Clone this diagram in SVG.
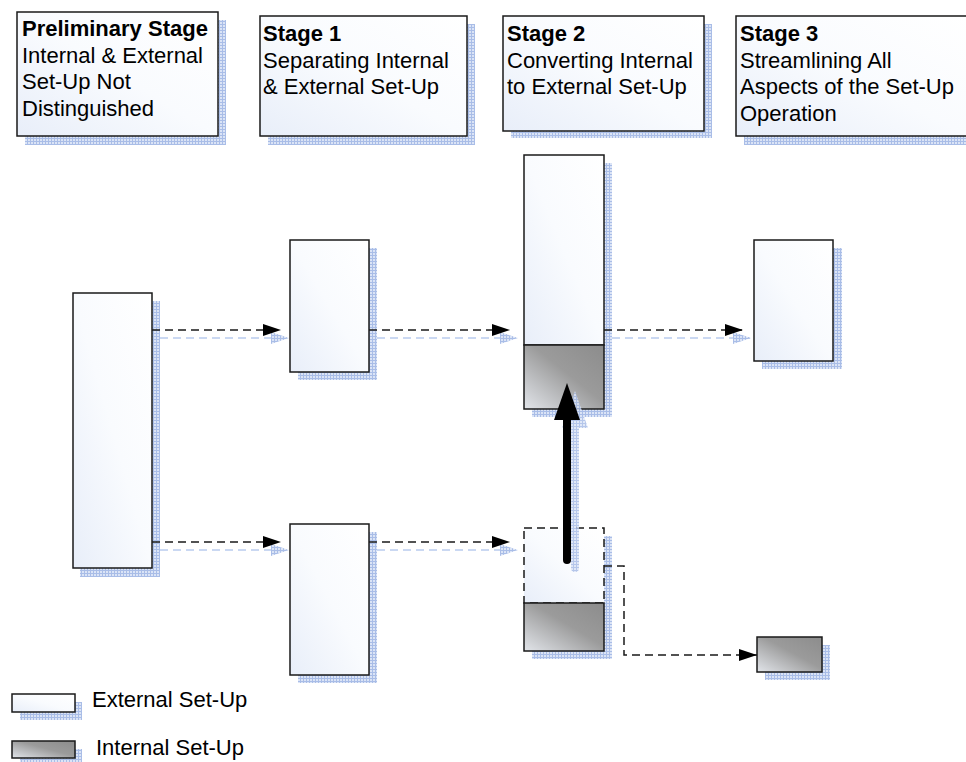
<svg xmlns="http://www.w3.org/2000/svg" width="966" height="762" viewBox="0 0 966 762">
<defs>
  <linearGradient id="gW" x1="0" y1="1" x2="1" y2="0">
    <stop offset="0" stop-color="#e8eef9"/>
    <stop offset="0.5" stop-color="#f9fbfe"/>
    <stop offset="1" stop-color="#ffffff"/>
  </linearGradient>
  <linearGradient id="gG" x1="0" y1="1" x2="1" y2="0">
    <stop offset="0" stop-color="#e2e5ea"/>
    <stop offset="0.55" stop-color="#9b9b9b"/>
    <stop offset="1" stop-color="#8c8c8c"/>
  </linearGradient>
  <pattern id="hatch" width="3" height="3" patternUnits="userSpaceOnUse">
    <rect width="3" height="3" fill="#dbe4f6"/>
    <path d="M0,0.5 H3 M0.5,0 V3" stroke="#a9bde7" stroke-width="1"/>
  </pattern>
  <marker id="ah" markerUnits="userSpaceOnUse" markerWidth="18" markerHeight="12" refX="18" refY="6" orient="auto">
    <path d="M0,0 L18,6 L0,12 z" fill="#000"/>
  </marker>
  <marker id="ahs" markerUnits="userSpaceOnUse" markerWidth="18" markerHeight="12" refX="18" refY="6" orient="auto">
    <path d="M0,0 L18,6 L0,12 z" fill="url(#hatch)"/>
  </marker>
</defs>
<style>
  .sh { fill: url(#hatch); stroke: none; }
  .w { fill: url(#gW); stroke: #1a1a1a; stroke-width: 1.5; }
  .g { fill: url(#gG); stroke: #1a1a1a; stroke-width: 1.5; }
  .dash { fill: none; stroke: #1a1a1a; stroke-width: 1.5; stroke-dasharray: 8 5; }
  .dashs { fill: none; stroke: #b9cbee; stroke-width: 1.5; stroke-dasharray: 8 5; }
  text { font-family: "Liberation Sans", Arial, sans-serif; font-size: 22px; fill: #000; }
  .b { font-weight: bold; }
</style>

<g id="hdr-prelim">
  <rect class="sh" x="25" y="20" width="201" height="125"/>
  <rect class="w" x="17" y="12" width="201" height="124"/>
  <text x="22" y="36" class="b">Preliminary Stage</text>
  <text x="22" y="62.5">Internal &amp; External</text>
  <text x="22" y="89">Set-Up Not</text>
  <text x="22" y="115.5">Distinguished</text>
</g>
<g id="hdr-stage1">
  <rect class="sh" x="268" y="24" width="207" height="121"/>
  <rect class="w" x="260" y="16" width="207" height="120"/>
  <text x="263" y="41" class="b">Stage 1</text>
  <text x="263" y="67.5">Separating Internal</text>
  <text x="263" y="94">&amp; External Set-Up</text>
</g>
<g id="hdr-stage2">
  <rect class="sh" x="511" y="24" width="201" height="114"/>
  <rect class="w" x="503" y="16" width="201" height="115"/>
  <text x="507" y="41" class="b">Stage 2</text>
  <text x="507" y="67.5">Converting Internal</text>
  <text x="507" y="94">to External Set-Up</text>
</g>
<g id="hdr-stage3">
  <rect class="sh" x="744" y="24" width="230" height="121"/>
  <rect class="w" x="736" y="16" width="232" height="120"/>
  <text x="740" y="41" class="b">Stage 3</text>
  <text x="740" y="67.5">Streamlining All</text>
  <text x="740" y="94">Aspects of the Set-Up</text>
  <text x="740" y="120.5">Operation</text>
</g>

<g id="box-prelim">
  <rect class="sh" x="80" y="301" width="80" height="276"/>
  <rect class="w" x="73" y="293" width="79" height="275"/>
</g>
<g id="box-s1-top">
  <rect class="sh" x="298" y="248" width="79" height="132"/>
  <rect class="w" x="290" y="240" width="79" height="132"/>
</g>
<g id="box-s1-bottom">
  <rect class="sh" x="298" y="532" width="79" height="151"/>
  <rect class="w" x="290" y="524" width="79" height="151"/>
</g>
<g id="box-s2-top">
  <rect class="sh" x="532" y="163" width="80" height="254"/>
  <rect class="w" x="524" y="155" width="80" height="190"/>
  <rect class="g" x="524" y="345" width="80" height="64"/>
</g>
<g id="box-s2-bottom">
  <rect class="sh" x="532" y="536" width="80" height="123"/>
  <rect x="524" y="528" width="80" height="75" fill="url(#gW)" stroke="none"/>
  <rect class="dash" x="524" y="528" width="80" height="75"/>
  <rect class="g" x="524" y="603" width="80" height="48"/>
</g>
<g id="box-s3-top">
  <rect class="sh" x="762" y="248" width="80" height="121"/>
  <rect class="w" x="754" y="240" width="79" height="121"/>
</g>
<g id="box-s3-bottom">
  <rect class="sh" x="765" y="645" width="65" height="35"/>
  <rect class="g" x="757" y="637" width="65" height="35"/>
</g>

<g id="connectors">
  <line class="dashs" x1="160" y1="338" x2="289" y2="338" marker-end="url(#ahs)"/>
  <line class="dashs" x1="377" y1="338" x2="518" y2="338" marker-end="url(#ahs)"/>
  <line class="dashs" x1="612" y1="338" x2="751" y2="338" marker-end="url(#ahs)"/>
  <line class="dashs" x1="160" y1="550" x2="289" y2="550" marker-end="url(#ahs)"/>
  <line class="dashs" x1="377" y1="550" x2="518" y2="550" marker-end="url(#ahs)"/>

  <line class="dash" x1="152" y1="330" x2="281" y2="330" marker-end="url(#ah)"/>
  <line class="dash" x1="369" y1="330" x2="510" y2="330" marker-end="url(#ah)"/>
  <line class="dash" x1="604" y1="330" x2="743" y2="330" marker-end="url(#ah)"/>
  <line class="dash" x1="152" y1="542" x2="281" y2="542" marker-end="url(#ah)"/>
  <line class="dash" x1="369" y1="542" x2="510" y2="542" marker-end="url(#ah)"/>
  <path class="dash" d="M604,566 H624 V655 H757" marker-end="url(#ah)"/>

  <g id="big-arrow-shadow" opacity="0.85">
    <line x1="575" y1="425" x2="575" y2="568" stroke="url(#hatch)" stroke-width="8" stroke-linecap="round"/>
    <path d="M575,391 L588,428 L562,428 z" fill="url(#hatch)"/>
  </g>
  <line x1="567" y1="416" x2="567" y2="560" stroke="#000" stroke-width="8" stroke-linecap="round"/>
  <path d="M567,383 L580,420 L554,420 z" fill="#000"/>
</g>

<g id="legend-external">
  <rect class="sh" x="20" y="702" width="62" height="18"/>
  <rect class="w" x="12" y="694" width="63" height="18"/>
  <text x="92" y="707">External Set-Up</text>
</g>
<g id="legend-internal">
  <rect class="sh" x="20" y="749" width="62" height="13"/>
  <rect class="g" x="12" y="741" width="63" height="17"/>
  <text x="96" y="755">Internal Set-Up</text>
</g>
</svg>
